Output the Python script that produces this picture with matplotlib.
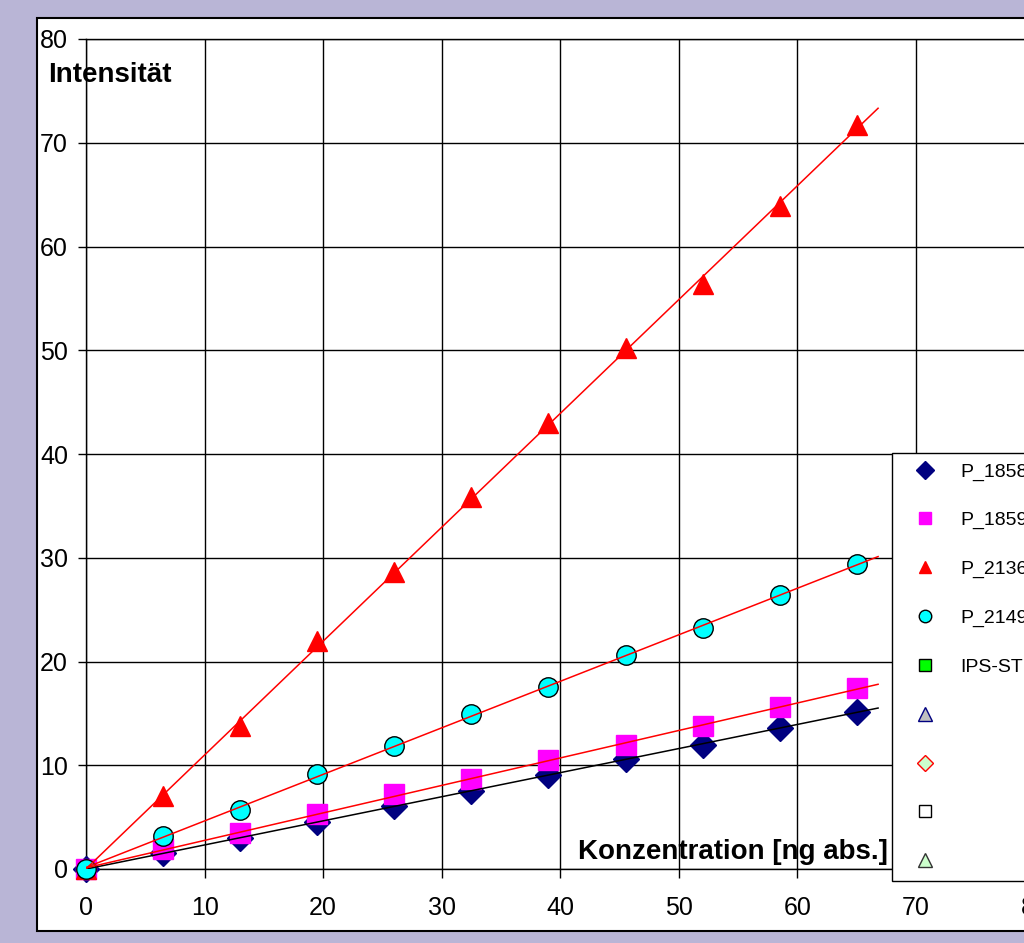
import matplotlib.pyplot as plt
import numpy as np
from matplotlib.lines import Line2D
from matplotlib.patches import Rectangle

plt.rcParams["font.family"] = ["Liberation Sans", "DejaVu Sans"]

# Konzentration [ng abs.]
conc = [0, 6.5, 13, 19.5, 26, 32.5, 39, 45.5, 52, 58.5, 65]

# Intensität per sample
p1858 = [0, 1.5, 3.0, 4.5, 6.1, 7.5, 9.1, 10.6, 12.0, 13.6, 15.1]
p1859 = [0, 1.9, 3.5, 5.3, 7.2, 8.7, 10.5, 12.0, 13.8, 15.6, 17.4]
p2136 = [0, 7.0, 13.8, 22.0, 28.6, 35.9, 43.0, 50.2, 56.4, 63.9, 71.7]
p2149 = [0, 3.2, 5.7, 9.2, 11.9, 14.9, 17.5, 20.6, 23.2, 26.4, 29.4]
ips_x = [0]
ips_y = [0]

names = ["P_1858", "P_1859", "P_2136", "P_2149", "IPS-STD", "", "", "", ""]

x_ticks = [0, 10, 20, 30, 40, 50, 60, 70, 80]
y_ticks = [0, 10, 20, 30, 40, 50, 60, 70, 80]
fit_range = [0, 66.8]

BG = "#b9b5d6"

fig = plt.figure(figsize=(10.24, 9.43), dpi=100)
fig.patch.set_facecolor(BG)

# white chart area with black frame, kept behind the axes
frame = Rectangle((37 / 1024, 12 / 943), 1.2, 913 / 943,
                  transform=fig.transFigure, facecolor="white",
                  edgecolor="black", linewidth=1.5, zorder=-10)
fig.patches.append(frame)

ax = fig.add_axes([86 / 1024, 74 / 943, 948.6 / 1024, 830 / 943])
ax.set_facecolor("none")
ax.set_xlim(0, 80)
ax.set_ylim(0, 80)
ax.set_xticks(x_ticks)
ax.set_yticks(y_ticks)
ax.tick_params(direction="out", width=1, colors="black", labelsize=18)
ax.tick_params(axis="x", length=6.5, pad=13)
ax.tick_params(axis="y", length=6, pad=7)
ax.grid(True, color="black", linewidth=1)
for s in ax.spines.values():
    s.set_linewidth(1)
ax.set_axisbelow(True)

series = [
    (p1858, dict(marker="D", color="#000080", markersize=13, markeredgecolor="#000080"), "black"),
    (p1859, dict(marker="s", color="#ff00ff", markersize=14, markeredgecolor="#ff00ff"), "red"),
    (p2136, dict(marker="^", color="#ff0000", markersize=15, markeredgecolor="#ff0000"), "red"),
    (p2149, dict(marker="o", color="#00ffff", markersize=14, markeredgecolor="black"), "red"),
]

handles = []
for ys, style, line_color in series:
    ax.plot(conc, ys, linestyle="none", zorder=3, clip_on=False, **style)
    k, d = np.polyfit(conc, ys, 1)
    xf = np.array(fit_range)
    ax.plot(xf, k * xf + d, color=line_color, linewidth=1.1, zorder=4)
    small = dict(style)
    small["markersize"] = 9
    handles.append(Line2D([], [], linestyle="none", **small))

ax.plot(ips_x, ips_y, linestyle="none", marker="s", color="#00ff00",
        markeredgecolor="black", markersize=11, zorder=2, clip_on=False)
handles.append(Line2D([], [], linestyle="none", marker="s", color="#00ff00",
                      markeredgecolor="black", markersize=9))
handles.append(Line2D([], [], linestyle="none", marker="^", color="#c0c0c0",
                      markeredgecolor="#000080", markersize=10))
handles.append(Line2D([], [], linestyle="none", marker="D", color="#ccffcc",
                      markeredgecolor="#ff0000", markersize=8))
handles.append(Line2D([], [], linestyle="none", marker="s", color="white",
                      markeredgecolor="black", markersize=8))
handles.append(Line2D([], [], linestyle="none", marker="^", color="#ccffcc",
                      markeredgecolor="#333333", markersize=10))

leg = ax.legend(handles, names, loc="upper left",
                bbox_to_anchor=(892 / 1024, 1 - 453 / 943),
                bbox_transform=fig.transFigure, borderaxespad=0,
                fontsize=14, frameon=True, fancybox=False, shadow=False,
                borderpad=0.5, handlelength=2.4, handletextpad=0.6,
                labelspacing=1.6, framealpha=1)
leg.get_frame().set_edgecolor("black")
leg.get_frame().set_linewidth(1)
leg.set_zorder(5)

fig.text(48 / 1024, 1 - 75 / 943, "Intensität", fontsize=20,
         fontweight="bold", ha="left", va="center")
fig.text(888 / 1024, 1 - 852 / 943, "Konzentration [ng abs.]", fontsize=20,
         fontweight="bold", ha="right", va="center")

fig.savefig("out.png", dpi=100, facecolor=BG)
